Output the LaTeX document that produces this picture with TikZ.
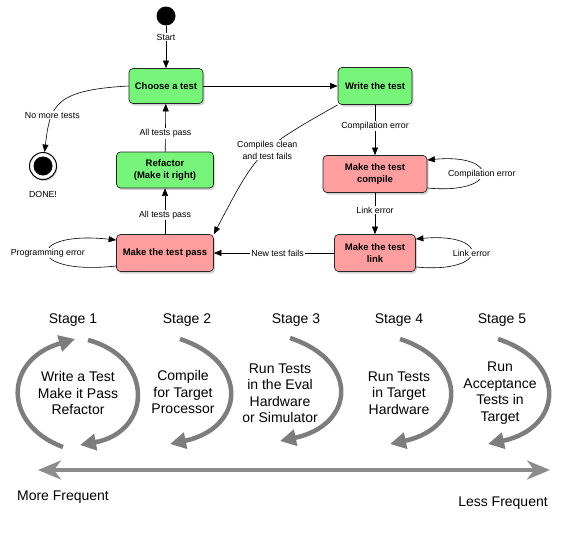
\documentclass[tikz,border=0pt]{standalone}
\usepackage{fontspec}
\setmainfont{Liberation Sans}
\usetikzlibrary{arrows.meta,shadows}
\definecolor{testgreen}{RGB}{118,245,122}
\definecolor{testred}{RGB}{255,158,158}
\definecolor{stagegray}{RGB}{125,125,125}
\definecolor{freqgray}{RGB}{140,140,140}

\begin{document}
\begin{tikzpicture}[x=1pt, y=-1pt,
    state/.style={draw=black!85, line width=0.7pt, rounded corners=4pt, align=center, inner sep=0pt,
        font=\fontsize{9.5}{12}\selectfont\bfseries,
        drop shadow={opacity=0.35, shadow xshift=1.5pt, shadow yshift=-2pt}},
    pass/.style={state, fill=testgreen},
    fail/.style={state, fill=testred},
    edge/.style={draw, line width=0.6pt, -{Triangle[length=7.5pt,width=6pt]}},
    lbl/.style={fill=white, inner sep=1pt, align=center, font=\fontsize{8.8}{12}\selectfont},
    big/.style={align=center, font=\fontsize{14}{16.5}\selectfont},
    stagearrow/.style={draw=stagegray, line width=4.5pt, -{Triangle[length=16pt,width=16pt]}},
    freq/.style={draw=freqgray, line width=3.5pt,
        {Stealth[length=23pt,width=19pt,inset=7pt]}-{Stealth[length=23pt,width=19pt,inset=7pt]}}]
    \useasboundingbox (0,0) rectangle (575,533);

    \node[circle, fill=black, minimum size=19pt, inner sep=0pt] (start) at (166,16) {};
    \node[pass, minimum width=74pt, minimum height=35pt] (choose) at (166,86) {Choose a test};
    \node[pass, minimum width=74pt, minimum height=37pt] (write) at (375,86) {Write the test};
    \node[pass, minimum width=97pt, minimum height=36pt] (refactor) at (165,170) {Refactor\\(Make it right)};
    \node[fail, minimum width=97pt, minimum height=37pt] (testpass) at (165,253) {Make the test pass};
    \node[fail, minimum width=104pt, minimum height=37pt] (compile) at (375,174) {Make the test\\compile};
    \node[fail, minimum width=81pt, minimum height=37pt] (link) at (375,253) {Make the test\\link};
    \node[circle, draw=black, fill=white, line width=1pt, minimum size=27pt, inner sep=0pt,
        drop shadow={opacity=0.35, shadow xshift=1pt, shadow yshift=-1.5pt}] (done) at (43,166) {};
    \node[circle, fill=black, minimum size=19pt, inner sep=0pt] (donedot) at (43,166) {};
    \node[lbl] (donetext) at (43,194) {DONE!};

    \draw[edge] (start) -- node[lbl, pos=0.27] {Start} (choose);
    \draw[edge] (choose) -- (write);
    \draw[edge] (choose.west) .. controls (55,90) and (50,105) .. node[lbl, pos=0.67] {No more tests} (done);
    \draw[edge] (refactor) -- node[lbl, pos=0.38] {All tests pass} (choose);
    \draw[edge] (testpass) -- node[lbl, pos=0.42] {All tests pass} (refactor);
    \draw[edge] (write) -- node[lbl, pos=0.42] {Compilation error} (compile);
    \draw[edge] (compile) -- node[lbl, pos=0.42] {Link error} (link);
    \draw[edge] (link) -- node[lbl, pos=0.47] {New test fails} (testpass);
    \draw[edge] (write.south west) .. controls (258,150) .. node[lbl, pos=0.45] {Compiles clean\\and test fails} (testpass.north east);
    \draw[edge] ([yshift=-13pt]testpass.west) .. controls (25,276) and (25,230) .. node[lbl] {Programming error} ([yshift=13pt]testpass.west);
    \draw[edge] ([yshift=-14pt]compile.east) .. controls (500,195) and (500,153) .. node[lbl] {Compilation error} ([yshift=14pt]compile.east);
    \draw[edge] ([yshift=-14pt]link.east) .. controls (490,274) and (490,232) .. node[lbl] {Link error} ([yshift=14pt]link.east);

    \node[big] (stage1) at (73,320) {Stage 1};
    \node[big] (stage2) at (187,320) {Stage 2};
    \node[big] (stage3) at (296,320) {Stage 3};
    \node[big] (stage4) at (399,320) {Stage 4};
    \node[big] (stage5) at (502,320) {Stage 5};
    \node[big] (work1) at (78,393) {Write a Test\\Make it Pass\\Refactor};
    \node[big] (work2) at (183,392) {Compile\\for Target\\Processor};
    \node[big] (work3) at (280,393) {Run Tests\\in the Eval\\Hardware\\or Simulator};
    \node[big] (work4) at (399,393) {Run Tests\\in Target\\Hardware};
    \node[big] (work5) at (500,393) {Run\\Acceptance\\Tests in\\Target};

    \draw[stagearrow] (63,447) .. controls (3,425) and (3,360) .. (75,339);
    \draw[stagearrow] (88,340) .. controls (155,358) and (152,432) .. (80,445);
    \draw[stagearrow] (180,339) .. controls (250,362) and (245,428) .. (170,444);
    \draw[stagearrow] (290,338) .. controls (360,361) and (355,425) .. (280,441);
    \draw[stagearrow] (400,339) .. controls (470,362) and (465,428) .. (390,444);
    \draw[stagearrow] (498,339) .. controls (568,362) and (563,428) .. (488,444);

    \coordinate (morefreq) at (38,470);
    \coordinate (lessfreq) at (550,470);
    \draw[freq] (morefreq) -- (lessfreq);
    \node[big] (moretext) at (63,497) {More Frequent};
    \node[big] (lesstext) at (503,503) {Less Frequent};
\end{tikzpicture}
\end{document}
